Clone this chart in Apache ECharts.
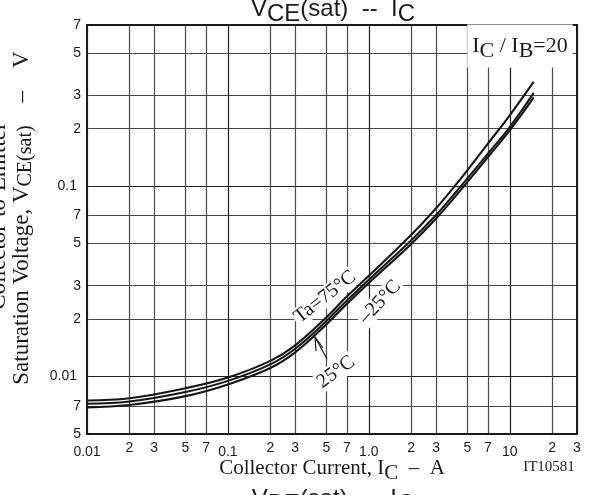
<!DOCTYPE html>
<html>
<head>
<meta charset="utf-8">
<script src="https://cdn.jsdelivr.net/npm/echarts@6/dist/echarts.min.js"></script>
<style>
html,body{margin:0;padding:0;background:#fff;}
#c{width:597px;height:495px;}
</style>
</head>
<body>
<div id="c"></div>
<script>
// Collector current (A)
const current = [0.01, 0.02, 0.05, 0.1, 0.2, 0.3, 0.5, 0.7, 1, 2, 3, 4, 5, 7, 10, 14.8];
// VCE(sat) (V) for each temperature
const v75  = [0.0075, 0.0077, 0.0087, 0.0099, 0.0121, 0.0146, 0.0205, 0.0264, 0.0338, 0.0555, 0.0765, 0.0985, 0.121, 0.167, 0.235, 0.353];
const v25  = [0.0072, 0.0074, 0.0083, 0.0095, 0.0116, 0.0140, 0.0196, 0.0251, 0.0322, 0.0520, 0.0705, 0.0900, 0.1095, 0.148, 0.204, 0.308];
const vm25 = [0.0069, 0.0071, 0.0079, 0.0091, 0.0111, 0.0134, 0.0188, 0.0241, 0.0310, 0.0497, 0.0675, 0.0862, 0.1048, 0.142, 0.196, 0.292];

const xTickVals = [0.01,0.02,0.03,0.05,0.07,0.1,0.2,0.3,0.5,0.7,1,2,3,5,7,10,20,30];
const xTickLabels = ['0.01','2','3','5','7','0.1','2','3','5','7','1.0','2','3','5','7','10','2','3'];
const yTickVals = [0.005,0.007,0.01,0.02,0.03,0.05,0.07,0.1,0.2,0.3,0.5,0.7];
const yTickLabels = ['5','7','0.01','2','3','5','7','0.1','2','3','5','7'];

function idxOf(vals, v) {
  let best = 0, bd = Infinity;
  for (let i = 0; i < vals.length; i++) {
    const d = Math.abs(Math.log10(vals[i]) - Math.log10(v));
    if (d < bd) { bd = d; best = i; }
  }
  return best;
}
function isDecade(v) { const l = Math.log10(v); return Math.abs(l - Math.round(l)) < 1e-6; }
function gridColors(vals) { return vals.map(v => isDecade(v) ? '#1e1e1e' : '#4a4a4a'); }

function pairs(ys) { return current.map((x, i) => [x, ys[i]]); }

const SERIF = '"Liberation Serif", "DejaVu Serif", serif';
const SANS = '"Liberation Sans", Arial, sans-serif';

const chart = echarts.init(document.getElementById('c'), null, {renderer: 'canvas'});

const lineStyle = {color: '#161616', width: 2.1};
function mkSeries(name, ys) {
  return {
    name, type: 'line', data: pairs(ys), symbol: 'none', smooth: 0.4,
    lineStyle, z: 5, silent: true
  };
}

const subStyle = (size, sub) => ({fontFamily: SERIF, fontSize: sub || size, fill: '#1a1a1a', padding: [10, 0, 0, 0]});
const nStyle = (size) => ({fontFamily: SERIF, fontSize: size, fill: '#1a1a1a'});

chart.setOption({
  animation: false,
  backgroundColor: '#fff',
  grid: {left: 87, top: 25, right: 20, bottom: 61, show: true, borderColor: '#1a1a1a', borderWidth: 2, backgroundColor: 'transparent', z: 3},
  xAxis: {
    type: 'log', logBase: 10, min: 0.01, max: 30,
    axisLine: {show: false},
    axisTick: {show: false, customValues: xTickVals},
    splitLine: {show: true, lineStyle: {color: gridColors(xTickVals), width: 1.2}},
    axisLabel: {
      customValues: xTickVals,
      margin: 7,
      fontFamily: SANS, fontSize: 14, color: '#1a1a1a',
      formatter: (v) => { const i = idxOf(xTickVals, v); const t = xTickLabels[i]; return isDecade(xTickVals[i]) ? '{d|' + t + '}' : t; },
      rich: {d: {fontFamily: SANS, fontSize: 14, color: '#1a1a1a', padding: [4, 0, 0, 0]}}
    }
  },
  yAxis: {
    type: 'log', logBase: 10, min: 0.005, max: 0.7,
    axisLine: {show: false},
    axisTick: {show: false, customValues: yTickVals},
    splitLine: {show: true, lineStyle: {color: gridColors(yTickVals), width: 1.2}},
    axisLabel: {
      customValues: yTickVals,
      margin: 6,
      fontFamily: SANS, fontSize: 14, color: '#1a1a1a',
      formatter: (v) => { const i = idxOf(yTickVals, v); const t = yTickLabels[i]; return isDecade(yTickVals[i]) ? '{d|' + t + '}' : t; },
      rich: {d: {fontFamily: SANS, fontSize: 14, color: '#1a1a1a', padding: [0, 4, 0, 0]}}
    }
  },
  series: [mkSeries('Ta=75°C', v75), mkSeries('25°C', v25), mkSeries('-25°C', vm25)],
  graphic: {elements: [
    // top title
    {type: 'text', z: 10, x: 333, y: 9, style: {
      text: '{n|V}{s|CE}{n|(sat)  --  I}{s|C}', textAlign: 'center', textVerticalAlign: 'middle',
      rich: {n: {fontFamily: SANS, fontSize: 24, fill: '#1a1a1a'}, s: {fontFamily: SANS, fontSize: 24, fill: '#1a1a1a', padding: [10, 0, 0, 0]}}
    }},
    // bottom (next chart) title, cut off
    {type: 'text', z: 10, x: 333, y: 499, style: {
      text: '{n|V}{s|BE}{n|(sat)  --  I}{s|C}', textAlign: 'center', textVerticalAlign: 'middle',
      rich: {n: {fontFamily: SANS, fontSize: 24, fill: '#1a1a1a'}, s: {fontFamily: SANS, fontSize: 24, fill: '#1a1a1a', padding: [10, 0, 0, 0]}}
    }},
    // x axis title
    {type: 'text', z: 10, x: 332, y: 468, style: {
      text: '{n|Collector Current, I}{s|C}{n|  –  A}', textAlign: 'center', textVerticalAlign: 'middle',
      rich: {n: nStyle(21), s: subStyle(21)}
    }},
    {type: 'text', z: 10, x: 549, y: 467, style: {text: 'IT10581', font: '15px ' + SERIF, fill: '#1a1a1a', textAlign: 'center', textVerticalAlign: 'middle'}},
    // y axis title (two lines, rotated)
    {type: 'text', z: 10, x: -1, y: 216, rotation: Math.PI / 2, style: {
      text: 'Collector-to-Emitter', font: '23px ' + SERIF, fill: '#1a1a1a', textAlign: 'center', textVerticalAlign: 'middle'}},
    {type: 'text', z: 10, x: 22, y: 218, rotation: Math.PI / 2, style: {
      text: '{n|Saturation Voltage, V}{s|CE(sat)}{n|    –    V}', textAlign: 'center', textVerticalAlign: 'middle',
      rich: {n: nStyle(23), s: {fontFamily: SERIF, fontSize: 20, fill: '#1a1a1a', padding: [8, 0, 0, 0]}}
    }},
    // IC / IB = 20 label with white box
    {type: 'text', z: 4, x: 520, y: 46, style: {
      text: '{n|I}{s|C}{n| / I}{s|B}{n|=20}', textAlign: 'center', textVerticalAlign: 'middle',
      backgroundColor: '#fff', padding: [6, 5, 5, 5],
      rich: {n: nStyle(22), s: subStyle(22)}
    }},
    // curve labels
    {type: 'text', z: 4, x: 325, y: 297, rotation: 38 * Math.PI / 180, style: {
      text: 'Ta=75°C', font: '20px ' + SERIF, fill: '#1a1a1a', textAlign: 'center', textVerticalAlign: 'middle',
      backgroundColor: '#fff', padding: [0, 2, 0, 2]}},
    {type: 'text', z: 4, x: 380, y: 302, rotation: 47 * Math.PI / 180, style: {
      text: '–25°C', font: '20px ' + SERIF, fill: '#1a1a1a', textAlign: 'center', textVerticalAlign: 'middle',
      backgroundColor: '#fff', padding: [0, 2, 0, 2]}},
    {type: 'text', z: 4, x: 336, y: 372, rotation: 36 * Math.PI / 180, style: {
      text: '25°C', font: '20px ' + SERIF, fill: '#1a1a1a', textAlign: 'center', textVerticalAlign: 'middle',
      backgroundColor: '#fff', padding: [0, 2, 0, 2]}},
    // arrow for 25°C
    {type: 'polyline', z: 6, shape: {points: [[327, 359], [315, 337]]}, style: {stroke: '#1a1a1a', lineWidth: 1.2, fill: null}},
    {type: 'polyline', z: 6, shape: {points: [[316, 351], [315, 337], [323, 348]]}, style: {stroke: '#1a1a1a', lineWidth: 1.2, fill: null}}
  ]}
});
</script>
</body>
</html>
